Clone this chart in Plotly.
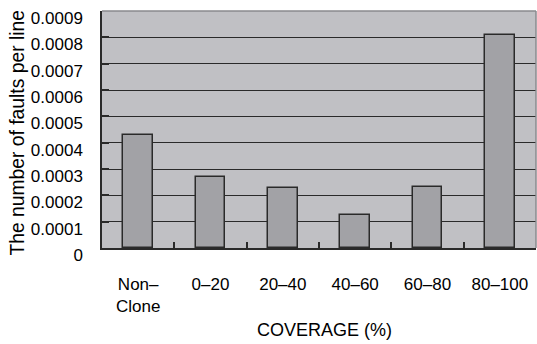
import plotly.graph_objects as go

categories = ["Non–<br>Clone", "0–20", "20–40", "40–60", "60–80", "80–100"]
faults_per_line = [0.00043, 0.00027, 0.000226, 0.000125, 0.000233, 0.00081]
y_tickvals = [0, 0.0001, 0.0002, 0.0003, 0.0004, 0.0005, 0.0006, 0.0007, 0.0008, 0.0009]
y_ticktext = ["0", "0.0001", "0.0002", "0.0003", "0.0004", "0.0005", "0.0006", "0.0007", "0.0008", "0.0009"]
x_title = "COVERAGE (%)"
y_title = "The number of faults per line"

FONT = "Liberation Sans, Arial, sans-serif"
DARK = "#2a2a2a"

fig = go.Figure(
    go.Bar(
        x=categories,
        y=faults_per_line,
        width=0.414,
        marker=dict(color="#a2a2a6", line=dict(color=DARK, width=1.5)),
    )
)

fig.update_layout(
    width=537,
    height=344,
    margin=dict(l=102, r=1, t=11, b=96),
    paper_bgcolor="white",
    plot_bgcolor="#c0c0c4",
    font=dict(family=FONT, size=17, color="black"),
    showlegend=False,
    bargap=0,
)

fig.update_xaxes(
    type="category",
    showline=True,
    linecolor=DARK,
    linewidth=1.5,
    ticks="inside",
    tickson="boundaries",
    ticklen=6,
    tickcolor=DARK,
    tickwidth=1.5,
    showgrid=False,
    ticklabelstandoff=20,
    tickfont=dict(size=17),
)

fig.update_yaxes(
    range=[0, 0.000900001],
    tickvals=y_tickvals,
    ticktext=y_ticktext,
    showline=True,
    linecolor=DARK,
    linewidth=1.5,
    ticks="inside",
    ticklen=7,
    tickcolor=DARK,
    tickwidth=1.5,
    showgrid=True,
    gridcolor=DARK,
    gridwidth=1.2,
    zeroline=False,
    ticklabelstandoff=14,
    ticklabelshift=7,
    ticklabeloverflow="allow",
    tickfont=dict(size=17),
)

# axis titles as annotations (placed as in the reference)
fig.add_annotation(
    text=y_title, textangle=-90, showarrow=False,
    xref="paper", yref="paper", x=0, y=0.5, xanchor="center", yanchor="middle",
    xshift=-85, yshift=-4, font=dict(size=19.3, family=FONT, color="black"),
)
fig.add_annotation(
    text=x_title, showarrow=False,
    xref="paper", yref="paper", x=0.5, y=0, xanchor="center", yanchor="middle",
    xshift=5, yshift=-82, font=dict(size=18, family=FONT, color="black"),
)

# lighter top/right frame of plot area
fig.add_shape(type="line", xref="x domain", yref="y domain", x0=0, x1=1, y0=1, y1=1,
              line=dict(color="#8a8a8e", width=1.5))
fig.add_shape(type="line", xref="x domain", yref="y domain", x0=1, x1=1, y0=0, y1=1,
              line=dict(color="#8a8a8e", width=1.5))

fig.write_html("out.html", config={"displayModeBar": False})

# remove default body margin so the figure sits at the page origin
with open("out.html", "r", encoding="utf-8") as f:
    html = f.read()
html = html.replace("<head>", "<head><style>html,body{margin:0;padding:0;overflow:hidden;}</style>", 1)
with open("out.html", "w", encoding="utf-8") as f:
    f.write(html)
